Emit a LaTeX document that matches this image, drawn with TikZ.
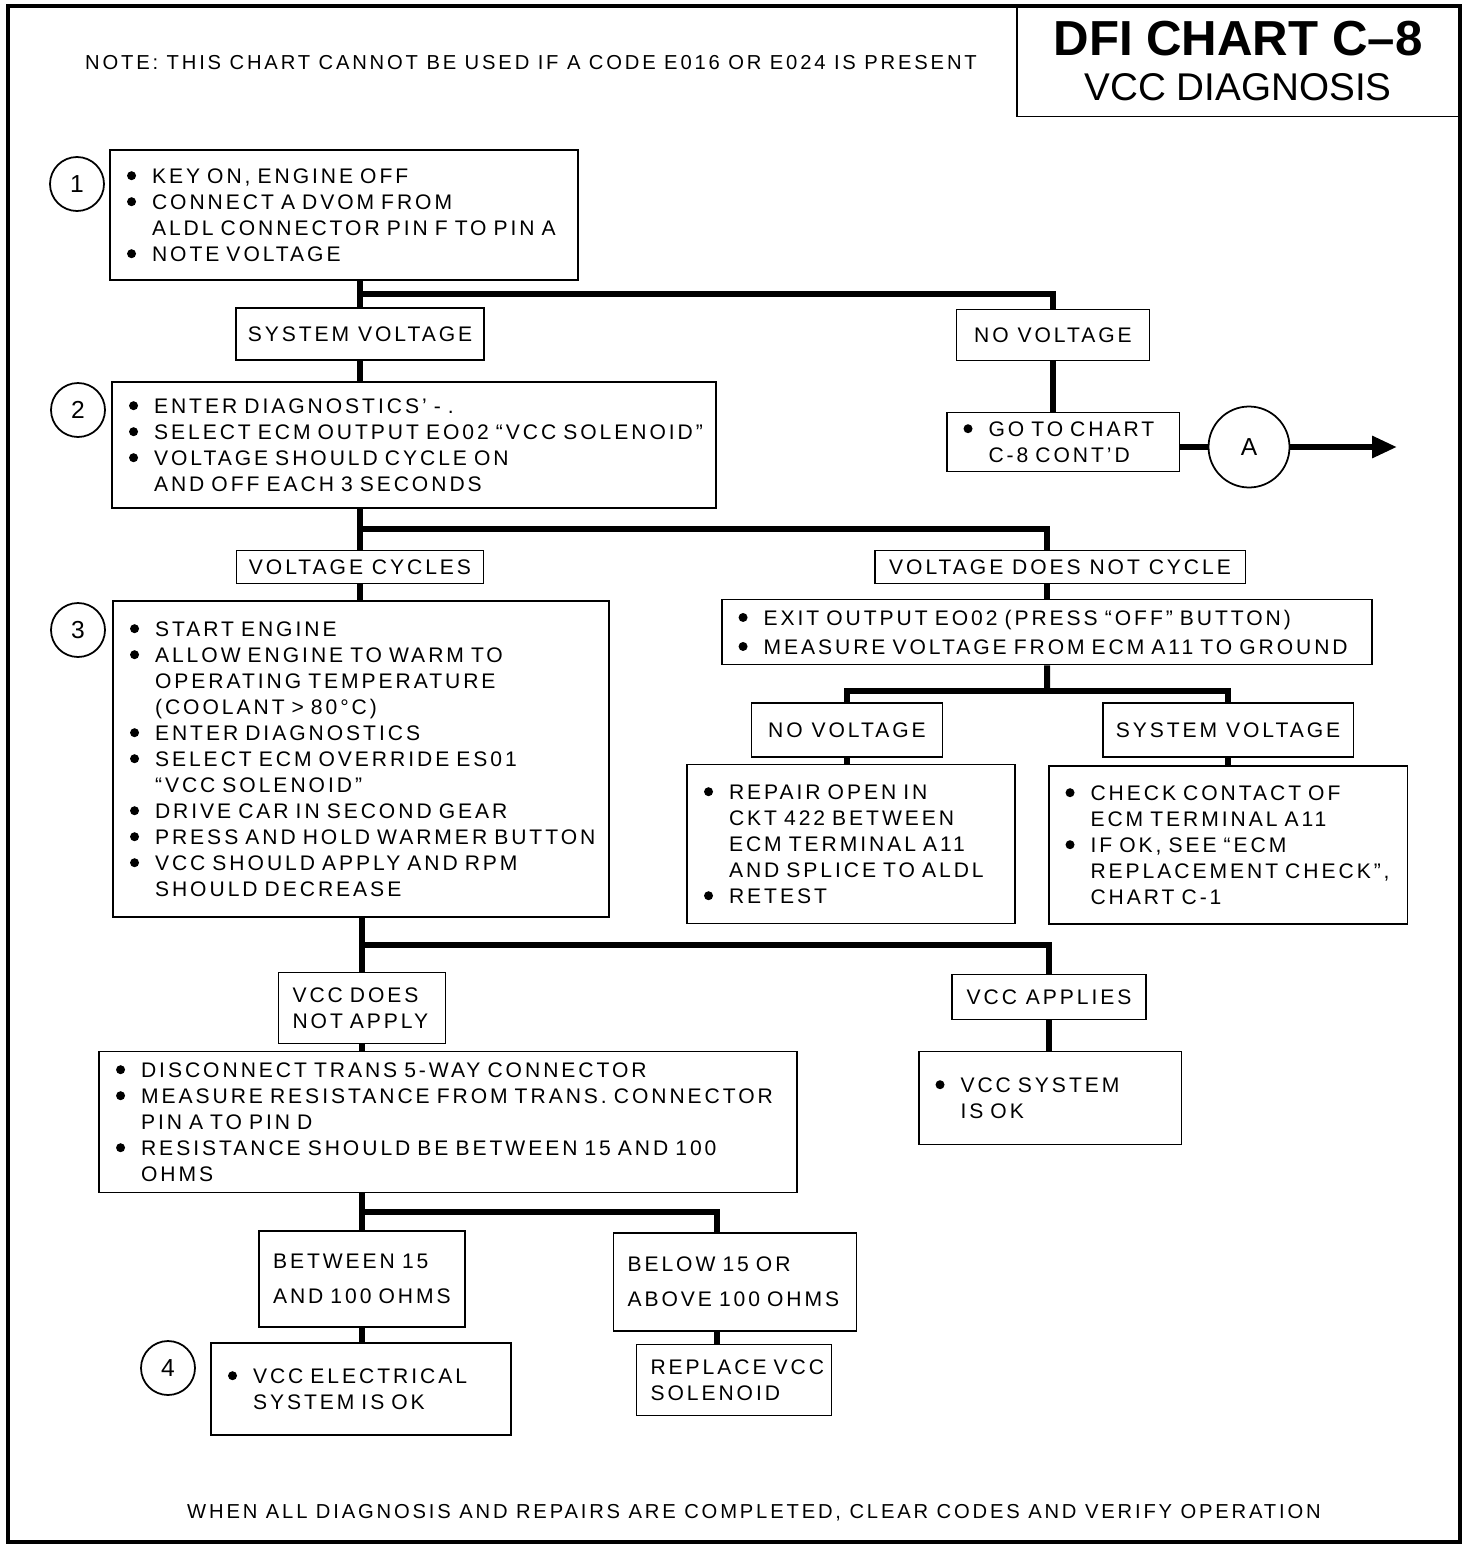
\documentclass[tikz,border=0pt]{standalone}
\usepackage{graphicx}
\usepackage{fontspec}
\setmainfont{Liberation Sans}[LetterSpace=14]
\newfontfamily\titlefont{Liberation Sans}
\usepackage{tikz}
\usetikzlibrary{positioning, arrows.meta, shapes, calc}

\newcommand{\dotmark}{\smash{\tikz[baseline=-4.3pt]\fill (0,0) circle[radius=0.09cm];}}
\newcommand{\itm}[1]{\mbox{\makebox[0.5cm][l]{\dotmark}#1}}
\newcommand{\cnt}[1]{\mbox{\hspace*{0.5cm}#1}}
\newcommand{\plainrow}[1]{\mbox{#1}}

\begin{document}
\begin{tikzpicture}[x=0.02cm, y=-0.02cm,
    font=\fontsize{12}{14.8}\selectfont,
    box/.style={rectangle, draw, line width=1.1pt, inner xsep=0.34cm, inner ysep=0pt, align=left},
    tag/.style={rectangle, draw, line width=1.1pt, inner xsep=0.28cm, inner ysep=0pt, align=left},
    lab/.style={rectangle, draw, line width=1.1pt, inner sep=0pt, align=center},
    stepnum/.style={circle, draw, line width=1pt, minimum size=1.08cm, inner sep=0pt, font=\titlefont\fontsize{14}{14}\selectfont},
    conn/.style={line width=3.4pt}]
    \useasboundingbox (0,0) rectangle (1472,1548);

    % Frame and heading
    \draw[line width=2.3pt] (8,6) rectangle (1460,1542);
    \node (title) [lab, minimum width=8.84cm, minimum height=2.22cm, font=\titlefont\fontsize{22}{26}\selectfont] at (1238,61)
        {{\fontsize{28}{28}\selectfont\bfseries DFI CHART C–8}\\ VCC DIAGNOSIS};
    \node (note) [font=\fontsize{11.5}{13}\selectfont] at (531,63) {NOTE: THIS CHART CANNOT BE USED IF A CODE E016 OR E024 IS PRESENT};
    \node (foot) [font=\fontsize{11.5}{13}\selectfont] at (754,1513) {WHEN ALL DIAGNOSIS AND REPAIRS ARE COMPLETED, CLEAR CODES AND VERIFY OPERATION};

    % Nodes
    \node (b1) [box, text width=8.68cm, minimum height=2.6cm] at (344,215)
        {\itm{KEY ON, ENGINE OFF}\\ \itm{CONNECT A DVOM FROM}\\ \cnt{ALDL CONNECTOR PIN F TO PIN A}\\ \itm{NOTE VOLTAGE}};
    \node (sv1) [lab, minimum width=4.96cm, minimum height=1.04cm] at (360,334) {SYSTEM VOLTAGE};
    \node (nv1) [lab, minimum width=3.86cm, minimum height=1.02cm] at (1053,335) {NO VOLTAGE};
    \node (b2) [box, text width=11.4cm, minimum height=2.52cm] at (414,445)
        {\itm{ENTER DIAGNOSTICS’ - .}\\ \itm{SELECT ECM OUTPUT EO02 “VCC SOLENOID”}\\ \itm{VOLTAGE SHOULD CYCLE ON}\\ \cnt{AND OFF EACH 3 SECONDS}};
    \node (goto) [box, text width=3.98cm, minimum height=1.18cm] at (1063,442)
        {\itm{GO TO CHART}\\ \cnt{C-8 CONT’D}};
    \node (a) [stepnum, minimum size=1.62cm] at (1249,447) {A};
    \coordinate (aend) at (1397,447);
    \node (vc) [lab, minimum width=4.94cm, minimum height=0.66cm] at (360,567) {VOLTAGE CYCLES};
    \node (vdnc) [lab, minimum width=7.42cm, minimum height=0.66cm] at (1060,567) {VOLTAGE DOES NOT CYCLE};
    \node (b3) [box, text width=9.24cm, minimum height=6.32cm] at (361,759)
        {\itm{START ENGINE}\\ \itm{ALLOW ENGINE TO WARM TO}\\ \cnt{OPERATING TEMPERATURE}\\ \cnt{(COOLANT > 80°C)}\\
         \itm{ENTER DIAGNOSTICS}\\ \itm{SELECT ECM OVERRIDE ES01}\\ \cnt{“VCC SOLENOID”}\\ \itm{DRIVE CAR IN SECOND GEAR}\\
         \itm{PRESS AND HOLD WARMER BUTTON}\\ \itm{VCC SHOULD APPLY AND RPM}\\ \cnt{SHOULD DECREASE}};
    \node (exit) [box, text width=12.34cm, minimum height=1.3cm] at (1047,632)
        {\itm{EXIT OUTPUT EO02 (PRESS “OFF” BUTTON)}\\[0.06cm] \itm{MEASURE VOLTAGE FROM ECM A11 TO GROUND}};
    \node (nv2) [lab, minimum width=3.82cm, minimum height=1.08cm] at (847,730) {NO VOLTAGE};
    \node (sv2) [lab, minimum width=5.02cm, minimum height=1.08cm] at (1228,730) {SYSTEM VOLTAGE};
    \node (repair) [box, text width=5.88cm, minimum height=3.18cm] at (851,844)
        {\itm{REPAIR OPEN IN}\\ \cnt{CKT 422 BETWEEN}\\ \cnt{ECM TERMINAL A11}\\ \cnt{AND SPLICE TO ALDL}\\ \itm{RETEST}};
    \node (check) [box, text width=6.5cm, minimum height=3.16cm] at (1228,845)
        {\itm{CHECK CONTACT OF}\\ \cnt{ECM TERMINAL A11}\\ \itm{IF OK, SEE “ECM}\\ \cnt{REPLACEMENT CHECK”,}\\ \cnt{CHART C-1}};
    \node (vdna) [tag, text width=2.78cm, minimum height=1.42cm] at (362,1008)
        {\plainrow{VCC DOES}\\ \plainrow{NOT APPLY}};
    \node (va) [lab, minimum width=3.88cm, minimum height=0.9cm] at (1049,997) {VCC APPLIES};
    \node (b4) [box, text width=13.28cm, minimum height=2.82cm] at (448,1122)
        {\itm{DISCONNECT TRANS 5-WAY CONNECTOR}\\ \itm{MEASURE RESISTANCE FROM TRANS. CONNECTOR}\\ \cnt{PIN A TO PIN D}\\
         \itm{RESISTANCE SHOULD BE BETWEEN 15 AND 100}\\ \cnt{OHMS}};
    \node (ok) [box, text width=4.58cm, minimum height=1.86cm] at (1050,1098)
        {\itm{VCC SYSTEM}\\ \cnt{IS OK}};
    \node (bet) [tag, text width=3.56cm, minimum height=1.92cm] at (362,1279)
        {\plainrow{BETWEEN 15}\\[0.18cm] \plainrow{AND 100 OHMS}};
    \node (bel) [tag, text width=4.3cm, minimum height=1.96cm] at (735,1282)
        {\plainrow{BELOW 15 OR}\\[0.18cm] \plainrow{ABOVE 100 OHMS}};
    \node (elec) [box, text width=5.32cm, minimum height=1.84cm] at (361,1389)
        {\itm{VCC ELECTRICAL}\\ \cnt{SYSTEM IS OK}};
    \node (repl) [tag, text width=3.34cm, minimum height=1.42cm] at (734,1380)
        {\plainrow{REPLACE VCC}\\ \plainrow{SOLENOID}};

    % Step numbers
    \node (n1) [stepnum] at (77,184) {1};
    \node (n2) [stepnum] at (78,410) {2};
    \node (n3) [stepnum] at (78,630) {3};
    \node (n4) [stepnum] at (168,1368) {4};

    % Connectors
    \draw[conn] (sv1.north |- b1.south) -- (sv1.north);
    \draw[conn] ($(sv1.north)!0.5!(sv1.north |- b1.south)$) -| (nv1.north);
    \draw[conn] (sv1.south) -- (sv1.south |- b2.north);
    \draw[conn] (nv1.south) -- (nv1.south |- goto.north);
    \draw[conn] (goto.east |- a.west) -- (a.west);
    \draw[conn, -{Triangle[length=0.5cm, width=0.42cm]}] (a.east) -- (aend);

    \draw[conn] (vc.north |- b2.south) -- (vc.north);
    \draw[conn] ($(vc.north)!0.5!(vc.north |- b2.south)$) -| (exit.north |- vdnc.north);
    \draw[conn] (vc.south) -- (vc.south |- b3.north);
    \draw[conn] (exit.north |- vdnc.south) -- (exit.north);
    \draw[conn] (exit.south) -- ($(exit.south)!0.7!(exit.south |- nv2.north)$);
    \draw[conn] (nv2.north) |- ($(exit.south)!0.7!(exit.south |- nv2.north)$) -| (sv2.north);
    \draw[conn] (nv2.south) -- (nv2.south |- repair.north);
    \draw[conn] (sv2.south) -- (sv2.south |- check.north);

    \draw[conn] (vdna.north |- b3.south) -- (vdna.north);
    \draw[conn] ($(vdna.north)!0.5!(vdna.north |- b3.south)$) -| (va.north);
    \draw[conn] (vdna.south) -- (vdna.south |- b4.north);
    \draw[conn] (va.south) -- (va.south |- ok.north);

    \draw[conn] (bet.north |- b4.south) -- (bet.north);
    \draw[conn] ($(bet.north)!0.5!(bet.north |- b4.south)$) -| ([xshift=-0.36cm]bel.north);
    \draw[conn] (bet.south) -- (bet.south |- elec.north);
    \draw[conn] ([xshift=-0.36cm]bel.south) -- ([xshift=-0.36cm]bel.south |- repl.north);
\end{tikzpicture}
\end{document}
